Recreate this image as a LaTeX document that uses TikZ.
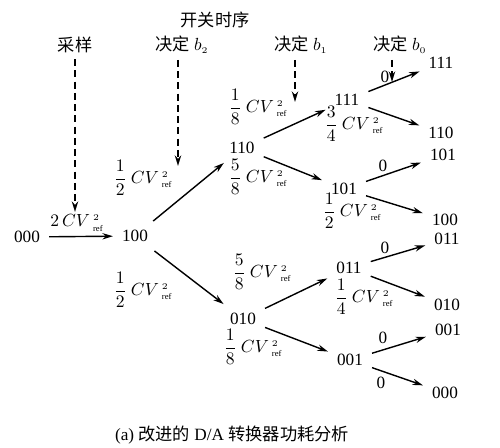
\documentclass[tikz,border=0pt]{standalone}
\usepackage{fontspec}
\usepackage{amsmath}
\usetikzlibrary{arrows.meta}
\setmainfont{Liberation Serif}
\newfontfamily\cjk{Noto Sans CJK SC}
\newcommand{\cvr}{CV\,{}^{\scriptscriptstyle 2}_{\scriptscriptstyle\mathrm{ref}}}

\begin{document}
\begin{tikzpicture}[x=0.02cm,y=-0.02cm,>={Stealth[length=6pt,width=3.6pt]},
    every node/.style={font=\fontsize{9.8}{11}\selectfont},
    state/.style={inner sep=5pt},
    dsh/.style={->,line width=1.4pt,dash pattern=on 4pt off 2.4pt}]
      \useasboundingbox (0,0) rectangle (500,448);
      % timing labels
      \node (top) at (215,20) {\cjk 开关时序};
      \node (ls) at (75,45) {\cjk 采样};
      \node (lb2) at (182,45) {{\cjk 决定}\ $b_{\scriptscriptstyle 2}$};
      \node (lb1) at (301,45) {{\cjk 决定}\ $b_{\scriptscriptstyle 1}$};
      \node (lb0) at (400,45) {{\cjk 决定}\ $b_{\scriptscriptstyle 0}$};
      \coordinate (ts) at (75,212);
      \coordinate (t2) at (178,166);
      \coordinate (t1) at (295,102);
      \coordinate (t0) at (392,82);
      \draw[dsh] (ls.south -| ts) -- (ts);
      \draw[dsh] (lb2.south -| t2) -- (t2);
      \draw[dsh] (lb1.south -| t1) -- (t1);
      \draw[dsh] (lb0.south -| t0) -- (t0);
      % states
      \node[state] (n000) at (27,237) {000};
      \node[state] (n100) at (135,236) {100};
      \node[state] (n110) at (242,148) {110};
      \node[state] (n010) at (243,319) {010};
      \node[state] (m111) at (347,100) {111};
      \node[state] (m101) at (344,189) {101};
      \node[state] (m011) at (349,268) {011};
      \node[state] (m001) at (350,360) {001};
      \node[state] (l111) at (441,63) {111};
      \node[state] (l110) at (441,133) {110};
      \node[state] (l101) at (443,155) {101};
      \node[state] (l100) at (445,220) {100};
      \node[state] (l011) at (447,239) {011};
      \node[state] (l010) at (447,305) {010};
      \node[state] (l001) at (448,330) {001};
      \node[state] (l000) at (445,393) {000};
      \draw[->,thick] (n000)--(n100);
      \draw[->,thick] (n100)--(n110);
      \draw[->,thick] (n100)--(n010);
      \draw[->,thick] (n110)--(m111);
      \draw[->,thick] (n110)--(m101);
      \draw[->,thick] (n010)--(m011);
      \draw[->,thick] (n010)--(m001);
      \draw[->,thick] (m111)--(l111);
      \draw[->,thick] (m111)--(l110);
      \draw[->,thick] (m101)--(l101);
      \draw[->,thick] (m101)--(l100);
      \draw[->,thick] (m011)--(l011);
      \draw[->,thick] (m011)--(l010);
      \draw[->,thick] (m001)--(l001);
      \draw[->,thick] (m001)--(l000);
      % energies
      \node (w0) at (77,223) {$2\,\cvr$};
      \node (w1) at (143,178) {$\dfrac{1}{2}\ \cvr$};
      \node (w2) at (143,290) {$\dfrac{1}{2}\ \cvr$};
      \node (w3) at (258,107) {$\dfrac{1}{8}\ \cvr$};
      \node (w4) at (258,177) {$\dfrac{5}{8}\ \cvr$};
      \node (w5) at (354,124) {$\dfrac{3}{4}\ \cvr$};
      \node (w6) at (352,211) {$\dfrac{1}{2}\ \cvr$};
      \node (w7) at (262,272) {$\dfrac{5}{8}\ \cvr$};
      \node (w8) at (364,297) {$\dfrac{1}{4}\ \cvr$};
      \node (w9) at (253,347) {$\dfrac{1}{8}\ \cvr$};
      \node (z1) at (385,77) {0};
      \node (z2) at (383,166) {0};
      \node (z3) at (385,248) {0};
      \node (z4) at (383,338) {0};
      \node (z5) at (381,383) {0};
      \node (cap) at (232,435) {(a)\ {\cjk 改进的} D/A {\cjk 转换器功耗分析}};
    \end{tikzpicture}
\end{document}
